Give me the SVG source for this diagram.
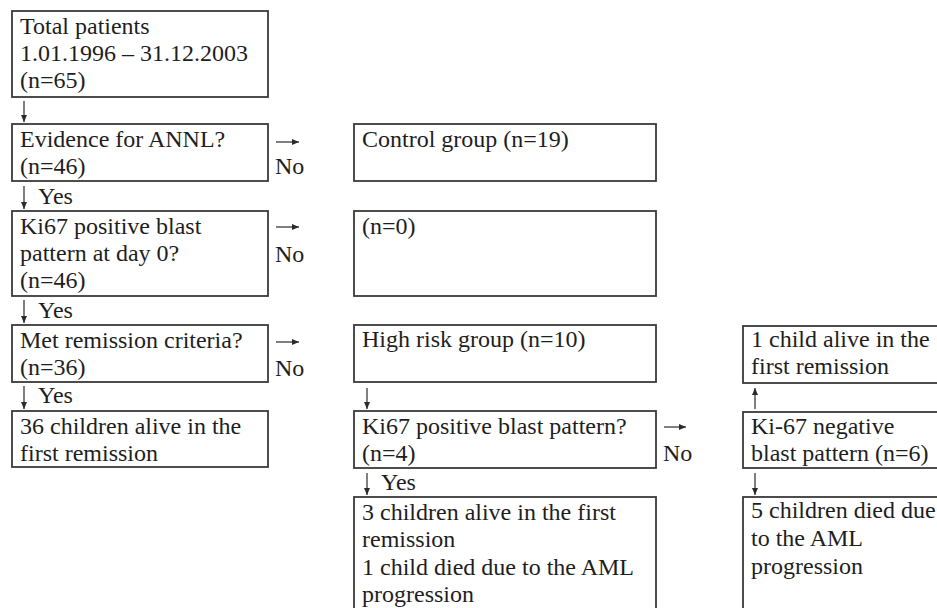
<svg xmlns="http://www.w3.org/2000/svg" width="937" height="608" viewBox="0 0 937 608">
<defs>
<style>
.box{fill:#fff;stroke:#3a3a3a;stroke-width:1.8}
.t{font-family:'Liberation Serif','Tinos','Times New Roman','DejaVu Serif',serif;font-size:24px;fill:#1e1e1e}
.c{stroke:#2a2a2a;stroke-width:1.2;fill:none}
</style>
<marker id="ah" viewBox="0 0 8 8" refX="7" refY="4" markerWidth="8" markerHeight="8" markerUnits="userSpaceOnUse" orient="auto">
<path d="M0,1 L7,4 L0,7 Z" fill="#2a2a2a"/>
</marker>
</defs>
<rect width="937" height="608" fill="#fff"/>

<g id="n-total">
<rect class="box" x="12" y="11" width="256" height="86"/>
<text class="t" x="20" y="34">Total patients</text>
<text class="t" x="20" y="61">1.01.1996 – 31.12.2003</text>
<text class="t" x="20" y="88">(n=65)</text>
</g>
<g id="n-annl">
<rect class="box" x="12" y="124" width="256" height="57"/>
<text class="t" x="20" y="147">Evidence for ANNL?</text>
<text class="t" x="20" y="174">(n=46)</text>
</g>
<g id="n-ki67day0">
<rect class="box" x="12" y="211" width="256" height="85"/>
<text class="t" x="20" y="234">Ki67 positive blast</text>
<text class="t" x="20" y="261">pattern at day 0?</text>
<text class="t" x="20" y="288">(n=46)</text>
</g>
<g id="n-remission">
<rect class="box" x="12" y="325" width="256" height="57"/>
<text class="t" x="20" y="348">Met remission criteria?</text>
<text class="t" x="20" y="375">(n=36)</text>
</g>
<g id="n-36alive">
<rect class="box" x="12" y="411" width="256" height="56"/>
<text class="t" x="20" y="434">36 children alive in the</text>
<text class="t" x="20" y="461">first remission</text>
</g>

<g id="n-control">
<rect class="box" x="354" y="124" width="302" height="57"/>
<text class="t" x="362" y="147">Control group (n=19)</text>
</g>
<g id="n-zero">
<rect class="box" x="354" y="211" width="302" height="85"/>
<text class="t" x="362" y="234">(n=0)</text>
</g>
<g id="n-highrisk">
<rect class="box" x="354" y="325" width="302" height="57"/>
<text class="t" x="362" y="347">High risk group (n=10)</text>
</g>
<g id="n-ki67pos">
<rect class="box" x="354" y="411" width="302" height="57"/>
<text class="t" x="362" y="434">Ki67 positive blast pattern?</text>
<text class="t" x="362" y="461">(n=4)</text>
</g>
<g id="n-3alive">
<rect class="box" x="354" y="497" width="302" height="120"/>
<text class="t" x="362" y="520">3 children alive in the first</text>
<text class="t" x="362" y="547">remission</text>
<text class="t" x="362" y="575">1 child died due to the AML</text>
<text class="t" x="362" y="602">progression</text>
</g>

<g id="n-1alive">
<rect class="box" x="743" y="326" width="210" height="57"/>
<text class="t" x="751" y="347">1 child alive in the</text>
<text class="t" x="751" y="374">first remission</text>
</g>
<g id="n-ki67neg">
<rect class="box" x="743" y="412" width="210" height="56"/>
<text class="t" x="751" y="434">Ki-67 negative</text>
<text class="t" x="751" y="461">blast pattern (n=6)</text>
</g>
<g id="n-5died">
<rect class="box" x="743" y="497" width="210" height="120"/>
<text class="t" x="751" y="518">5 children died due</text>
<text class="t" x="751" y="546">to the AML</text>
<text class="t" x="751" y="574">progression</text>
</g>

<g id="connectors">
<path class="c" d="M24,101 V122" marker-end="url(#ah)"/>
<path class="c" d="M24,186 V209" marker-end="url(#ah)"/>
<path class="c" d="M24,300 V323" marker-end="url(#ah)"/>
<path class="c" d="M24,386 V409" marker-end="url(#ah)"/>
<path class="c" d="M276,142 H299" marker-end="url(#ah)"/>
<path class="c" d="M276,227 H299" marker-end="url(#ah)"/>
<path class="c" d="M276,342 H299" marker-end="url(#ah)"/>
<path class="c" d="M367,388 V409" marker-end="url(#ah)"/>
<path class="c" d="M367,473 V495" marker-end="url(#ah)"/>
<path class="c" d="M664,427 H686" marker-end="url(#ah)"/>
<path class="c" d="M755,409 V388" marker-end="url(#ah)"/>
<path class="c" d="M755,473 V495" marker-end="url(#ah)"/>
<text class="t" x="38" y="204">Yes</text>
<text class="t" x="38" y="318">Yes</text>
<text class="t" x="38" y="403">Yes</text>
<text class="t" x="381" y="490">Yes</text>
<text class="t" x="275" y="174">No</text>
<text class="t" x="275" y="262">No</text>
<text class="t" x="275" y="376">No</text>
<text class="t" x="663" y="461">No</text>
</g>
</svg>
